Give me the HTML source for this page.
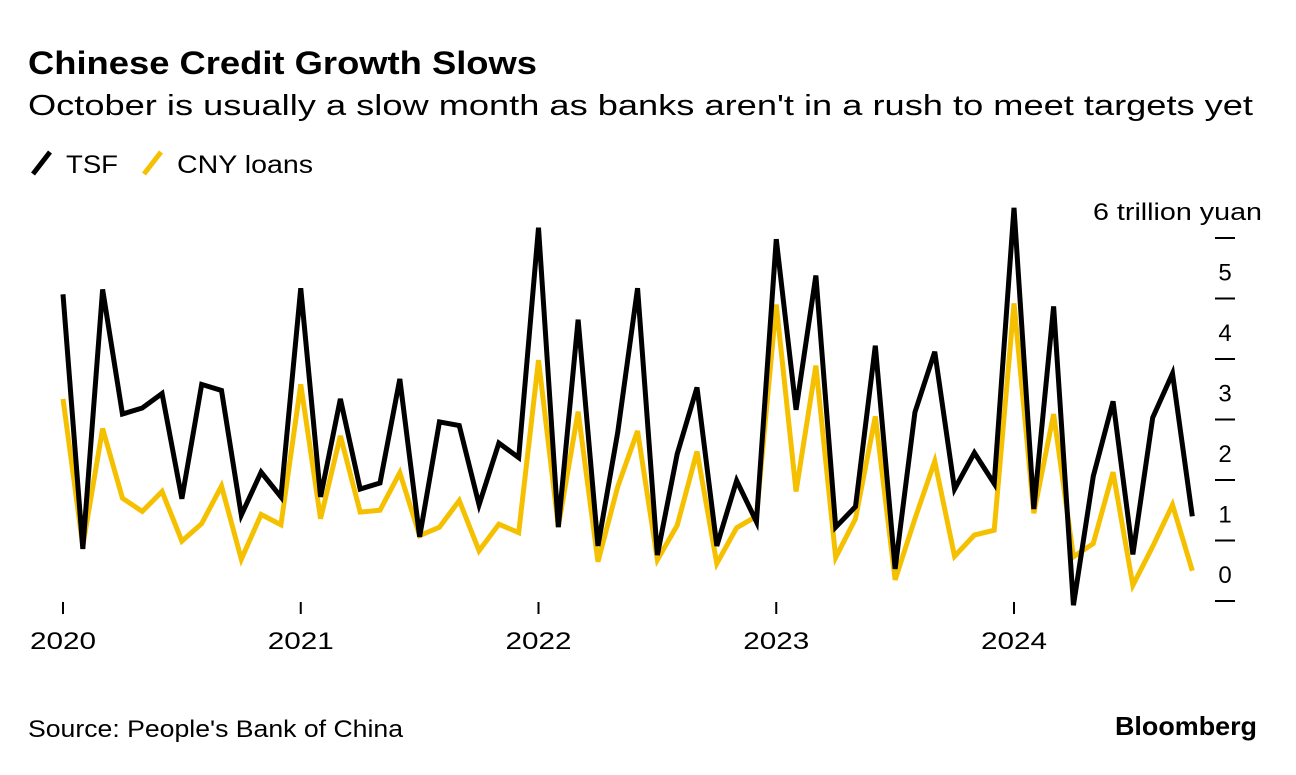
<!DOCTYPE html>
<html><head><meta charset="utf-8"><style>
body{margin:0;background:#fff;width:1296px;height:770px;overflow:hidden;font-family:"Liberation Sans",Arial,sans-serif;}
svg text{font-family:"Liberation Sans",Arial,sans-serif;}
</style></head><body>
<svg width="1296" height="770">
<text x="28" y="74" font-size="32" font-weight="bold" fill="#000" textLength="509" lengthAdjust="spacingAndGlyphs">Chinese Credit Growth Slows</text>
<text x="28" y="115" font-size="29" fill="#000" textLength="1225" lengthAdjust="spacingAndGlyphs">October is usually a slow month as banks aren't in a rush to meet targets yet</text>
<g>
<line x1="33" y1="174" x2="50" y2="152" stroke="#000" stroke-width="5"/>
<text x="66" y="173" font-size="25" textLength="52" lengthAdjust="spacingAndGlyphs">TSF</text>
<line x1="144" y1="174" x2="161" y2="152" stroke="#f5c000" stroke-width="5"/>
<text x="177" y="173" font-size="25" textLength="136" lengthAdjust="spacingAndGlyphs">CNY loans</text>
</g>
<g id="yaxis"></g>
<g id="xaxis"></g>
<g id="series"></g>
<text x="28" y="737" font-size="24" textLength="375" lengthAdjust="spacingAndGlyphs">Source: People's Bank of China</text>
<text x="1115" y="735" font-size="26" font-weight="bold" textLength="142" lengthAdjust="spacingAndGlyphs">Bloomberg</text>
</svg>
<script>
const years = ["2020","2021","2022","2023","2024"];
const yTicks = [0,1,2,3,4,5,6];
const tsf = [5.07,0.86,5.15,3.09,3.19,3.43,1.69,3.58,3.48,1.42,2.13,1.72,
5.17,1.72,3.34,1.85,1.95,3.67,1.06,2.96,2.9,1.59,2.61,2.37,
6.17,1.22,4.65,0.91,2.79,5.17,0.76,2.43,3.53,0.91,1.99,1.31,
5.98,3.16,5.38,1.22,1.56,4.22,0.53,3.12,4.12,1.85,2.45,1.94,
6.5,1.52,4.87,-0.07,2.06,3.3,0.77,3.03,3.76,1.4];
const cny = [3.34,0.91,2.85,1.7,1.48,1.81,0.99,1.28,1.9,0.69,1.43,1.26,
3.58,1.36,2.73,1.47,1.5,2.12,1.08,1.22,1.66,0.83,1.27,1.13,
3.98,1.23,3.13,0.65,1.89,2.81,0.68,1.25,2.47,0.62,1.21,1.4,
4.9,1.81,3.89,0.72,1.36,3.05,0.35,1.36,2.31,0.74,1.09,1.17,
4.92,1.45,3.09,0.73,0.95,2.13,0.26,0.9,1.59,0.5];
const NS="http://www.w3.org/2000/svg";
const xOf = i => 63 + i*(1014-63)/48;
const yOf = v => 601 - v*60.5;
function mk(tag,attrs,parent){const e=document.createElementNS(NS,tag);for(const k in attrs)e.setAttribute(k,attrs[k]);parent.appendChild(e);return e;}
const ya=document.getElementById('yaxis');
yTicks.forEach(v=>{
  const l=mk('line',{x1:1215,x2:1235,y1:yOf(v),y2:yOf(v),stroke:'#000','stroke-width':2},ya);
  
  
  const t=mk('text',{x:1225,y:yOf(v)-18,'font-size':24,'text-anchor':'middle'},ya);
  t.textContent = v===6 ? '6 trillion yuan' : String(v);
  if(v===6){t.setAttribute('x',1093);t.setAttribute('text-anchor','start');t.setAttribute('textLength','169');t.setAttribute('lengthAdjust','spacingAndGlyphs');}
  
  
});
const xa=document.getElementById('xaxis');
years.forEach((y,k)=>{
  const x=xOf(k*12);
  const l=mk('line',{x1:x,x2:x,y1:602,y2:614,stroke:'#000','stroke-width':2},xa);
  
  
  const t=mk('text',{x:x-33,y:649,'font-size':24,textLength:66,lengthAdjust:'spacingAndGlyphs'},xa);
  t.textContent=y;
  
  
});
const sg=document.getElementById('series');
function line(vals,color,name){
  const p=mk('polyline',{points:vals.map((v,i)=>xOf(i)+','+yOf(v)).join(' '),fill:'none',stroke:color,'stroke-width':5,'stroke-linejoin':'miter','stroke-miterlimit':4},sg);
  
  
}
line(cny,'#f5c000','cny-loans-line');
line(tsf,'#000','tsf-line');
</script>
</body></html>
